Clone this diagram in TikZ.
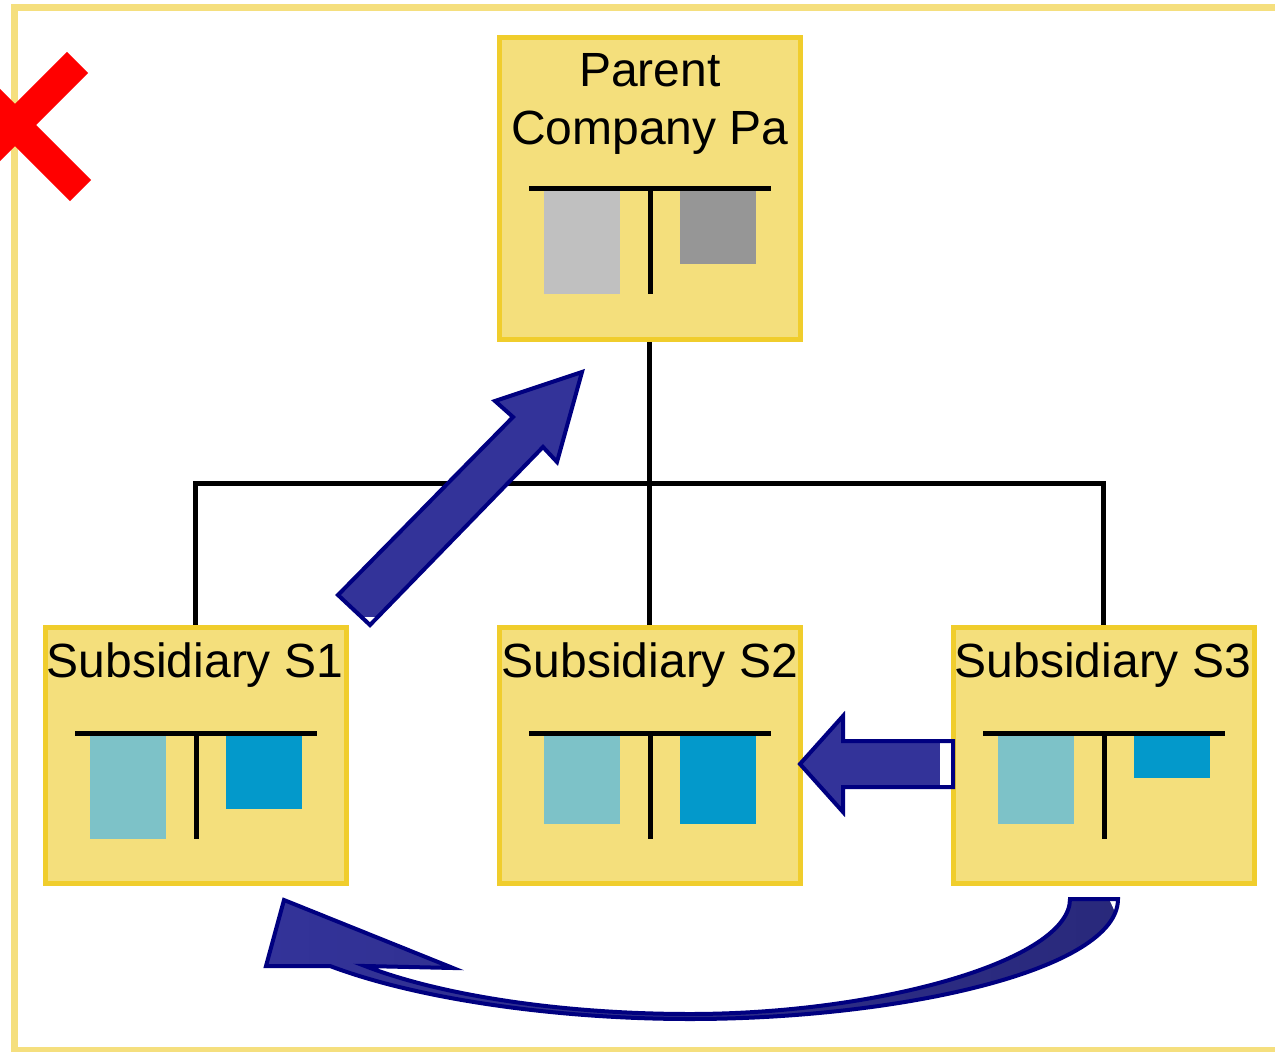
\documentclass[tikz,border=0pt]{standalone}
\usepackage{fontspec}
\setmainfont{Liberation Sans}
\usetikzlibrary{backgrounds}

\definecolor{frameyellow}{HTML}{F5DF7E}
\definecolor{boxfill}{HTML}{F4DF7C}
\definecolor{boxline}{HTML}{F0CD2C}
\definecolor{barlight}{HTML}{C0C0C0}
\definecolor{bardark}{HTML}{969696}
\definecolor{barteal}{HTML}{7DC2C8}
\definecolor{barblue}{HTML}{0399CB}
\definecolor{arrowfill}{HTML}{333399}
\definecolor{arrowdark}{HTML}{29297B}
\definecolor{arrowline}{HTML}{000080}
\definecolor{crossred}{HTML}{FF0000}

% T-account chart: centre x, bar y, left bottom, right bottom, left colour, right colour
\newcommand\tchart[6]{%
  \fill[#5] (#1-106,#2+2) rectangle (#1-30,#3);
  \fill[#6] (#1+30,#2+2) rectangle (#1+106,#4);
  \draw[tbar] (#1-121,#2) -- (#1+121,#2);
  \draw[tbar] (#1,#2) -- (#1,#2+106);
}

% outlines of the three block arrows
\newcommand\upArrowPath{(582,372) -- (495,401) -- (513,417) -- (338,595) -- (370,625) -- (543,447) -- (557,462) -- cycle}
\newcommand\leftArrowPath{(800,764) -- (843,716) -- (843,741) -- (953,741) -- (953,787) -- (843,787) -- (843,812) -- cycle}
\newcommand\curveArrowPath{(284,900) -- (266,966) -- (330,966)
  .. controls (420,1000) and (560,1019) .. (690,1019)
  .. controls (900,1019) and (1118,970) .. (1118,899)
  -- (1070,899)
  .. controls (1070,960) and (880,1014) .. (690,1014)
  .. controls (560,1014) and (440,995) .. (365,966)
  -- (453,968) -- cycle}

\begin{document}
\begin{tikzpicture}[x=1pt,y=-1pt,
  company/.style={draw=boxline, fill=boxfill, line width=5pt, inner sep=0pt, minimum width=301pt},
  title/.style={inner sep=0pt, font=\fontsize{48}{58}\selectfont, align=center},
  tbar/.style={line width=5pt, black},
  link/.style={line width=5pt, black},
  arrowedge/.style={draw=arrowline, line width=4pt, line join=miter},
]
\useasboundingbox (0,0) rectangle (1275,1052);
\clip (0,0) rectangle (1275,1052);

% outer frame
\draw[frameyellow, line width=7pt] (14.5,7) rectangle (1300,1050);

% company boxes
\node[company, minimum height=302pt] (P)  at (649.5,188.5) {};
\node[company, minimum height=256pt] (S1) at (195.5,755.5) {};
\node[company, minimum height=256pt] (S2) at (649.5,755.5) {};
\node[company, minimum height=256pt] (S3) at (1103.5,755.5) {};

% ownership connectors, behind the boxes
\coordinate (J) at (650,483);
\begin{scope}[on background layer]
  \draw[link] (P.south) -- (S2.north);
  \draw[link] (S1.north) |- (J) -| (S3.north);
\end{scope}

% titles
\node[title, anchor=north] (tP) at (650,53) {Parent\\Company Pa};
\node[title, anchor=base] (t1) at (195,677) {Subsidiary S1};
\node[title, anchor=base] (t2) at (650,677) {Subsidiary S2};
\node[title, anchor=base] (t3) at (1103,677) {Subsidiary S3};

% T-account charts
\tchart{650}{188}{294}{264}{barlight}{bardark}
\tchart{196}{733}{839}{809}{barteal}{barblue}
\tchart{650}{733}{824}{824}{barteal}{barblue}
\tchart{1104}{733}{824}{778}{barteal}{barblue}

% block arrows
\fill[arrowfill] \upArrowPath;
\fill[white] (363,617) -- (376,617) -- (370,624) -- cycle;
\draw[arrowedge] \upArrowPath;

\fill[arrowfill] \leftArrowPath;
\fill[white] (940,743) rectangle (951,785);
\draw[arrowedge] \leftArrowPath;

\shade[left color=arrowfill, right color=arrowdark] \curveArrowPath;
\fill[white] (1110,901) -- (1116,901) -- (1116,914) -- cycle;
\draw[arrowedge] \curveArrowPath;

% red cross
\draw[crossred, line width=30pt] (77.5,62.5) -- (-47.5,187.5);
\draw[crossred, line width=30pt] (80.5,190.5) -- (-50,60);
\end{tikzpicture}
\end{document}
